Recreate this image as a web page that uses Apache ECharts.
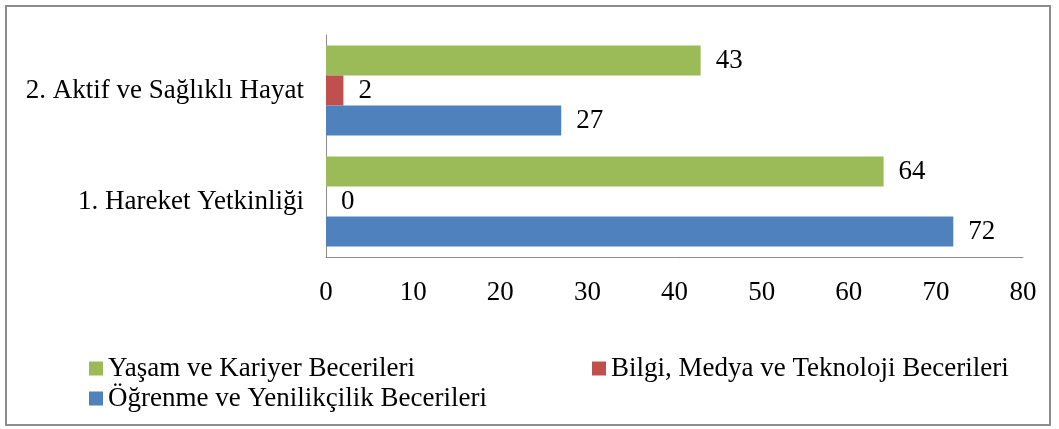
<!DOCTYPE html>
<head>
    <meta charset="utf-8">
    <title>Yetkinlik bar</title>
    <script src="https://cdn.jsdelivr.net/npm/echarts@6/dist/echarts.min.js"></script>
    <style>
        html, body { margin: 0; padding: 0; background: #fff; }
    </style>
</head>
<body>
    <div id="main" style="width:1059px;height:429px"></div>
    <script type="text/javascript">
    // kategoriler (alttan üste)
    var categories = ['1. Hareket Yetkinliği', '2. Aktif ve Sağlıklı Hayat'];
    // seriler (her kategoride üstten alta: yaşam, bilgi, öğrenme)
    var yasam = [64, 43];
    var bilgi = [0, 2];
    var ogrenme = [72, 27];
    var xTicks = [0, 10, 20, 30, 40, 50, 60, 70, 80];

    var font = '"Liberation Serif", "Times New Roman", serif';
    var fs = 27;
    var myChart = echarts.init(document.getElementById('main'));

    var label = {
        show: true,
        position: 'right',
        distance: 15,
        fontFamily: font,
        fontSize: fs,
        color: '#000'
    };

    function legendAt(name, left, top) {
        return {
            data: [name],
            left: left,
            top: top,
            padding: 0,
            itemWidth: 14,
            itemHeight: 14,
            icon: 'rect',
            textStyle: { fontFamily: font, fontSize: fs, color: '#000' }
        };
    }

    myChart.setOption({
        animation: false,
        graphic: [{
            type: 'rect',
            shape: { x: 6, y: 6, width: 1044, height: 419 },
            style: { fill: null, stroke: '#8c8c8c', lineWidth: 2 },
            silent: true
        }],
        legend: [
            legendAt('Yaşam ve Kariyer Becerileri', 89, 355),
            legendAt('Bilgi, Medya ve Teknoloji Becerileri', 592, 355),
            legendAt('Öğrenme ve Yenilikçilik Becerileri', 89, 385)
        ],
        grid: { left: 326, right: 36, top: 35, bottom: 172 },
        xAxis: {
            type: 'value',
            min: xTicks[0],
            max: xTicks[xTicks.length - 1],
            interval: 10,
            axisLine: { show: true, lineStyle: { color: '#8c8c8c', width: 1 } },
            axisTick: { show: false },
            splitLine: { show: false },
            axisLabel: { fontFamily: font, fontSize: fs, color: '#000', margin: 22 }
        },
        yAxis: {
            type: 'category',
            data: categories,
            axisLine: { show: true, lineStyle: { color: '#8c8c8c', width: 1 } },
            axisTick: { show: false },
            axisLabel: { fontFamily: font, fontSize: fs, color: '#000', margin: 22 }
        },
        series: [{
            name: 'Yaşam ve Kariyer Becerileri',
            type: 'bar',
            data: yasam,
            itemStyle: { color: '#9BBB59' },
            barGap: 0,
            barCategoryGap: '19%',
            label: label
        }, {
            name: 'Bilgi, Medya ve Teknoloji Becerileri',
            type: 'bar',
            data: bilgi,
            itemStyle: { color: '#C0504D' },
            label: label
        }, {
            name: 'Öğrenme ve Yenilikçilik Becerileri',
            type: 'bar',
            data: ogrenme,
            itemStyle: { color: '#4F81BD' },
            label: label
        }]
    });
    </script>
</body>
